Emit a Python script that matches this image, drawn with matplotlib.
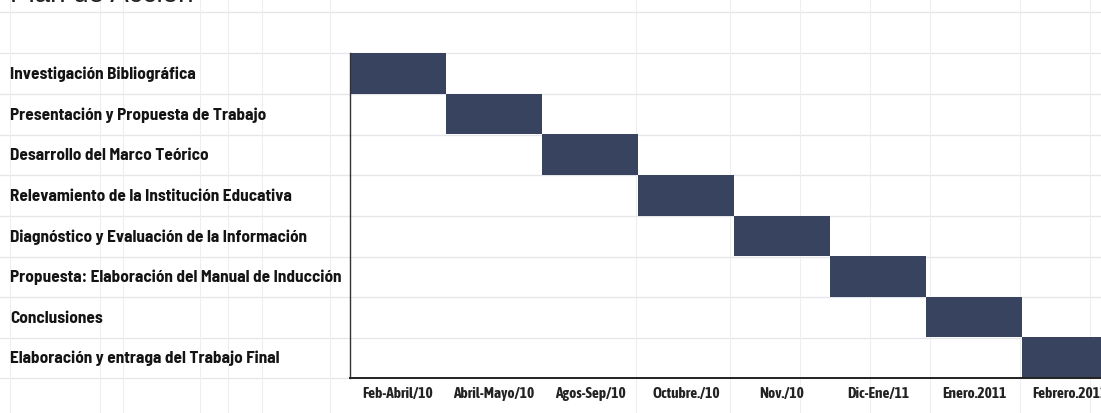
import matplotlib
matplotlib.use("Agg")
import matplotlib.pyplot as plt
from matplotlib.transforms import blended_transform_factory

tasks = [
    "Investigación Bibliográfica",
    "Presentación y Propuesta de Trabajo",
    "Desarrollo del Marco Teórico",
    "Relevamiento de la Institución Educativa",
    "Diagnóstico y Evaluación de la Información",
    "Propuesta: Elaboración del Manual de Inducción",
    "Conclusiones",
    "Elaboración y entraga del Trabajo Final",
]
periods = ["Feb-Abril/10", "Abril-Mayo/10", "Agos-Sep/10", "Octubre./10",
           "Nov./10", "Dic-Ene/11", "Enero.2011", "Febrero.2011"]
start = [0, 1, 2, 3, 4, 5, 6, 7]
duration = [1, 1, 1, 1, 1, 1, 1, 1]
title = "Plan de Acción"

W, H = 1101, 414
fig = plt.figure(figsize=(W / 100, H / 100), dpi=100)
fig.patch.set_facecolor("white")

# faint spreadsheet grid in background
for yy in [13, 54, 95, 136, 176, 217, 258, 298, 339, 379]:
    fig.add_artist(plt.Line2D([0, 1], [1 - yy / H, 1 - yy / H], color="#e4e6ea", lw=0.9, zorder=0))
for xx in [10, 100, 123, 200, 228, 262, 330, 636, 730, 800, 870, 930, 1020, 1090]:
    fig.add_artist(plt.Line2D([xx / W, xx / W], [0, 1], color="#eceef1", lw=0.8, zorder=0))

left, right = 350, 350 + 8 * 96
top, bottom = 54, 379
ax = fig.add_axes([left / W, 1 - bottom / H, (right - left) / W, (bottom - top) / H])
ax.patch.set_alpha(0)

ax.barh([i + 0.5 for i in range(len(tasks))], duration, left=start, height=1.0,
        color="#38435f", edgecolor="none")

ax.set_xlim(0, 8)
ax.set_ylim(len(tasks), 0)
for s in ["top", "right"]:
    ax.spines[s].set_visible(False)
ax.spines["left"].set_color("#333333")
ax.spines["bottom"].set_color("#222222")
ax.spines["left"].set_linewidth(1.0)
ax.spines["bottom"].set_linewidth(1.4)

ax.set_yticks([])
ax.set_xticks([i + 0.5 for i in range(len(periods))])
ax.set_xticklabels(periods, fontsize=11, fontweight="bold",
                   family=["Asap Condensed", "DejaVu Sans"], color="#222222")
ax.tick_params(axis="x", length=0, pad=6)

tr = blended_transform_factory(fig.transFigure, ax.transData)
for i, t in enumerate(tasks):
    ax.text(10 / W, i + 0.5, t, transform=tr, ha="left", va="center",
            fontsize=12.4, fontweight="bold", family=["Barlow Semi Condensed", "DejaVu Sans"],
            color="#141414")

fig.text(10 / W, 1 + 5 / H, title, ha="left", va="center", fontsize=20,
         family=["Liberation Sans", "DejaVu Sans"], color="#222222")

fig.savefig("out.png", dpi=100)
